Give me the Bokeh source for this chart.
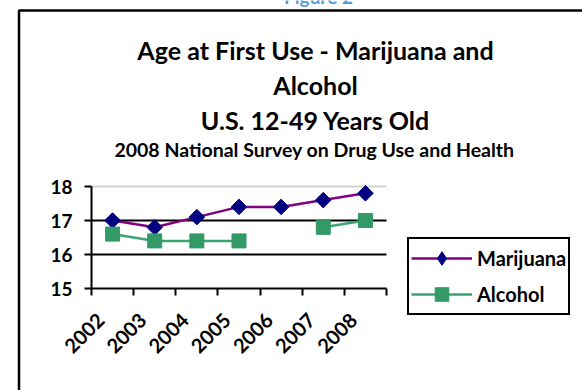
import math
from bokeh.plotting import figure
from bokeh.models import (Range1d, FixedTicker, Legend, LegendItem, Label,
                          PolyAnnotation, ColumnDataSource)
from bokeh.embed import file_html
from bokeh.resources import INLINE

# ---- data ----
years = ["2002", "2003", "2004", "2005", "2006", "2007", "2008"]
marijuana = [17.0, 16.8, 17.1, 17.4, 17.4, 17.6, 17.8]
alcohol = [16.6, 16.4, 16.4, 16.4, float("nan"), 16.8, 17.0]
y_ticks = [15, 16, 17, 18]
title_lines = ["Age at First Use - Marijuana and", "Alcohol", "U.S. 12-49 Years Old"]
subtitle = "2008 National Survey on Drug Use and Health"
caption = "Figure 2"
series_names = ["Marijuana", "Alcohol"]

# ---- layout (pixels) ----
W, H = 582, 390
PL, PR, PT, PB = 91, 386, 186, 288          # plot area inside the canvas
FONT = "Lato"
n = len(years)
ymin, ymax = min(y_ticks), max(y_ticks)
pxx = (PR - PL) / n
pxy = (PB - PT) / (ymax - ymin)

xpos = [i + 0.5 for i in range(n)]
label_shift = 12 / pxx
label_pos = [round(v - label_shift, 4) for v in xpos]
src = ColumnDataSource(dict(x=xpos, m=marijuana, a=alcohol))

p = figure(width=W, height=H, output_backend="svg", toolbar_location=None,
           x_range=Range1d(-PL / pxx, (W - PL) / pxx),
           y_range=Range1d(ymin - (H - PB) / pxy, ymin + PB / pxy),
           min_border_left=0, min_border_right=0, min_border_top=0, min_border_bottom=0)
p.outline_line_color = None
p.background_fill_color = "white"
p.border_fill_color = "white"
p.xgrid.visible = False
p.ygrid.visible = False

# x axis
xa = p.xaxis[0]
xa.fixed_location = ymin
xa.bounds = (0, n)
xa.ticker = FixedTicker(ticks=label_pos, minor_ticks=list(range(n + 1)))
xa.major_label_overrides = {xv: yr for xv, yr in zip(label_pos, years)}
xa.major_tick_out = 0
xa.major_tick_in = 0
xa.minor_tick_out = 7
xa.minor_tick_in = 0
xa.minor_tick_line_width = 2
xa.minor_tick_line_color = "black"
xa.axis_line_width = 2
xa.axis_line_color = "black"
xa.major_label_orientation = math.pi / 4
xa.major_label_text_font = FONT
xa.major_label_text_font_size = "20px"
xa.major_label_text_font_style = "bold"
xa.major_label_text_color = "black"
xa.major_label_standoff = 21

# y axis
ya = p.yaxis[0]
ya.fixed_location = 0
ya.bounds = (ymin, ymax)
ya.ticker = FixedTicker(ticks=y_ticks, minor_ticks=[])
ya.major_tick_out = 7
ya.major_tick_in = 0
ya.major_tick_line_width = 2
ya.major_tick_line_color = "black"
ya.axis_line_width = 2
ya.axis_line_color = "black"
ya.major_label_text_font = FONT
ya.major_label_text_font_size = "19px"
ya.major_label_text_font_style = "bold"
ya.major_label_text_color = "black"
ya.major_label_standoff = 12

# horizontal grid lines (only across the plot area)
inner = [t for t in y_ticks if ymin < t < ymax]
p.segment(x0=[0] * len(inner), x1=[n] * len(inner), y0=inner, y1=inner,
          line_color="black", line_width=2)
p.segment(x0=[0], x1=[n], y0=[ymax], y1=[ymax], line_color="#d4d4d4", line_width=2)

# series
M_LINE, M_FILL = "#800080", "#000080"
A_LINE, A_FILL = "#3aa574", "#339966"
lm = p.line("x", "m", source=src, line_color=M_LINE, line_width=2.5)
sm = p.scatter("x", "m", source=src, marker="square", angle=math.pi / 4, size=11,
               fill_color=M_FILL, line_color=M_FILL)
la = p.line("x", "a", source=src, line_color=A_LINE, line_width=2.5)
sa = p.scatter("x", "a", source=src, marker="square", size=14,
               fill_color=A_FILL, line_color=A_FILL)
# legend key symbol: a diamond (legend glyphs ignore marker angles); hidden in the plot
key_m = p.scatter("x", "m", source=src, marker="diamond", size=11,
                  fill_color=M_FILL, line_color=M_FILL, visible=False)

legend = Legend(items=[LegendItem(label=series_names[0], renderers=[lm, key_m]),
                       LegendItem(label=series_names[1], renderers=[la, sa])],
                location=(407, H - 315))
legend.border_line_color = "black"
legend.border_line_width = 2
legend.border_line_alpha = 1
legend.background_fill_alpha = 1
legend.inactive_fill_alpha = 0
legend.padding = 2
legend.spacing = 2
legend.glyph_width = 61
legend.glyph_height = 34
legend.label_height = 34
legend.label_standoff = 5
legend.margin = 0
legend.label_text_font = FONT
legend.label_text_font_size = "20px"
legend.label_text_font_style = "bold"
legend.label_text_color = "black"
p.add_layout(legend)

# titles
baselines = [49, 84, 119]
for txt, yb in zip(title_lines, baselines):
    p.add_layout(Label(x=315, y=yb, x_units="canvas", y_units="canvas", text=txt,
                       text_align="center", text_baseline="alphabetic", text_font=FONT,
                       text_font_size="25px", text_font_style="bold", text_color="black"))
p.add_layout(Label(x=314, y=149, x_units="canvas", y_units="canvas", text=subtitle,
                   text_align="center", text_baseline="alphabetic", text_font=FONT,
                   text_font_size="19.5px", text_font_style="bold", text_color="black"))
p.add_layout(Label(x=318, y=-4, x_units="canvas", y_units="canvas", text=caption,
                   text_align="center", text_baseline="alphabetic", text_font=FONT,
                   text_font_size="19px", text_font_style="bold", text_color="#5b9bd5"))

# outer frame (left and top edges visible)
p.add_layout(PolyAnnotation(xs=[18.5, 900, 900, 18.5], ys=[10, 10, 900, 900],
                            xs_units="canvas", ys_units="canvas",
                            fill_alpha=0, line_color="black", line_alpha=1,
                            line_width=2.5))

open("out.html", "w").write(file_html(p, INLINE))
